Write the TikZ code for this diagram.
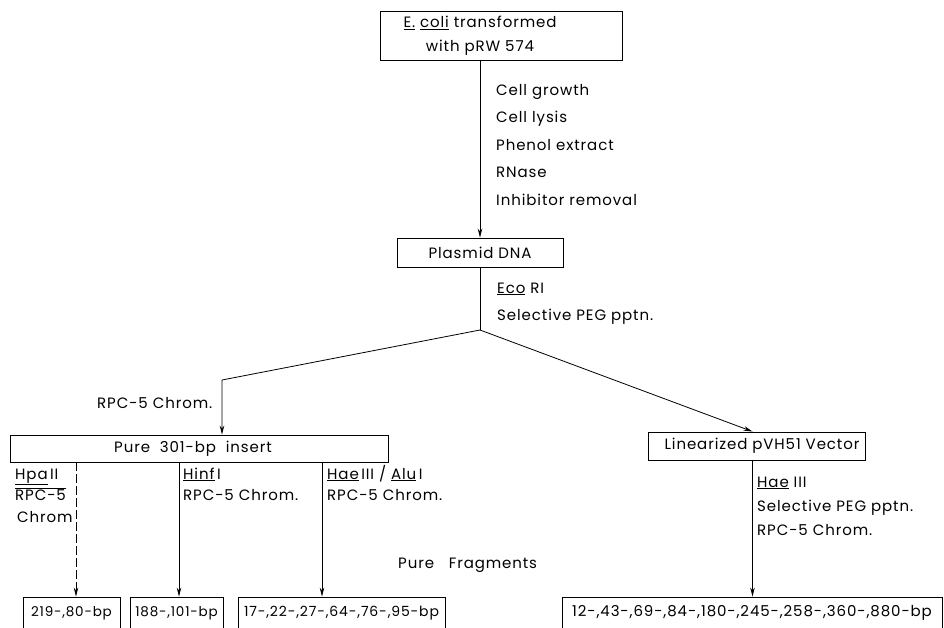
\documentclass[tikz,border=0pt]{standalone}
\usepackage{fontspec}
\setmainfont{Poppins}[LetterSpace=6]
\usetikzlibrary{positioning, calc, arrows.meta}
\tikzset{
  stepbox/.style={draw, line width=0.9pt, inner sep=0pt},
  flow/.style={line width=0.8pt, -{Stealth[length=9pt, width=4.5pt]}},
  note/.style={anchor=base west, align=left, inner sep=0pt},
}
\newcommand{\txt}[1]{\fontsize{15}{#1}\selectfont}

\begin{document}
\begin{tikzpicture}[x=1pt, y=-1pt, font=\txt{18}]
  \useasboundingbox (0,0) rectangle (944,627);

  % Boxes
  \node[stepbox, minimum width=242pt, minimum height=49pt] (ecoli) at (501,36) {};
  \node[align=center, inner sep=0pt, font=\txt{24}] (ecolitxt) at (480,36) {\underline{E.} \underline{coli} transformed\\with pRW 574};
  \node[stepbox, minimum width=166pt, minimum height=29pt] (plasmid) at (480,252.5) {Plasmid DNA};
  \node[stepbox, minimum width=378pt, minimum height=27pt] (insert) at (199,448.5) {\hspace*{-12pt}Pure\ \ 301-bp\ \ insert};
  \node[stepbox, minimum width=217pt, minimum height=28pt] (vector) at (756.5,446) {\hspace*{11pt}Linearized pVH51 Vector};

  % --- Pure fragments ---
  \node[stepbox, minimum width=97pt, minimum height=32pt, font=\fontsize{13.5}{16}\selectfont] (frag219) at (71.5,613) {219-,80-bp};
  \node[stepbox, minimum width=93pt, minimum height=32pt, font=\fontsize{13.5}{16}\selectfont] (frag188) at (176.5,613) {188-,101-bp};
  \node[stepbox, minimum width=207pt, minimum height=32pt, font=\fontsize{14}{16}\selectfont] (frag17) at (341.5,613) {17-,22-,27-,64-,76-,95-bp};
  \node[stepbox, minimum width=380pt, minimum height=32pt] (fragvec) at (752,613) {12-,43-,69-,84-,180-,245-,258-,360-,880-bp};

  % Connectors
  \coordinate (split) at (480,330);
  \coordinate (kink) at (222,380);
  \draw[flow] (plasmid.north |- ecoli.south) -- (plasmid.north);
  \draw[line width=0.8pt] (plasmid.south) -- (split);
  \draw[flow] (split) -- (kink) -- (kink |- insert.north);
  \draw[flow] (split) -- ([xshift=-4pt]vector.north);
  \draw[flow] ([xshift=-4pt]vector.south) -- ([xshift=-4pt]vector.south |- fragvec.north);
  \draw[flow, dash pattern=on 9pt off 3pt] (insert.south -| 76,0) -- (frag219.north -| 76,0);
  \draw[flow] (insert.south -| 179,0) -- (frag188.north -| 179,0);
  \draw[flow] (insert.south -| 322,0) -- (frag17.north -| 322,0);

  % Labels (anchored at the baseline of the last line)
  \node[note, font=\txt{27.5}] (steps) at (496,205) {Cell growth\\Cell lysis\\Phenol extract\\RNase\\Inhibitor removal};
  \node[note, font=\txt{27}] (eco) at (497,320) {\underline{Eco} RI\\Selective PEG pptn.};
  \node[note] (rpcleft) at (97,408) {RPC-5 Chrom.};
  \node[note, font=\txt{21.5}] (hpa) at (15,522) {\underline{Hpa}\,II\\$\overline{\mbox{RPC-5}}$\\\hspace*{2pt}Chrom};
  \node[note, font=\txt{21.5}] (hinf) at (183,500.5) {\underline{Hinf}\,I\\RPC-5 Chrom.};
  \node[note, font=\txt{21.5}] (haealu) at (327,500.5) {\underline{Hae}\,III / \underline{Alu}\,I\\RPC-5 Chrom.};
  \node[note] (pure) at (398,568) {Pure\ \ \ Fragments};
  \node[note, font=\txt{24}] (haeright) at (757,535) {\underline{Hae} III\\Selective PEG pptn.\\RPC-5 Chrom.};
\end{tikzpicture}
\end{document}
